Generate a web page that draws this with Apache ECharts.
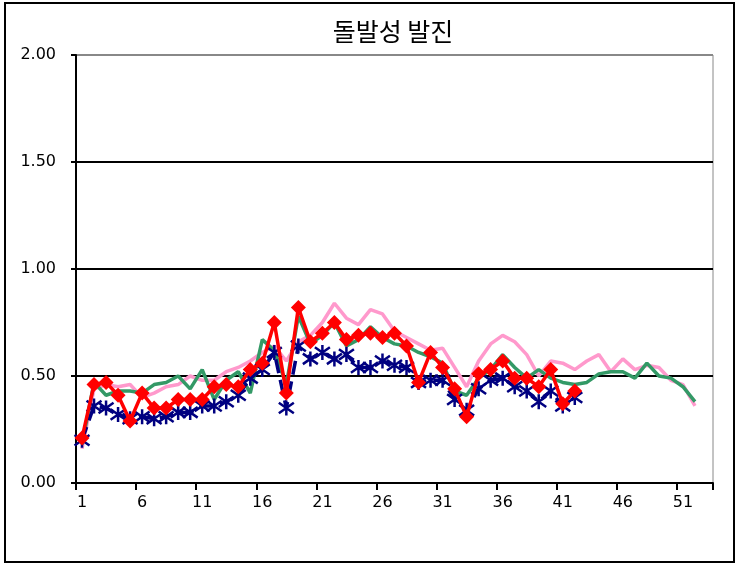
<!DOCTYPE html>
<html>
<head>
<meta charset="utf-8">
<script src="https://cdn.jsdelivr.net/npm/echarts@6/dist/echarts.min.js"></script>
<style>
  html, body { margin: 0; padding: 0; background: #fff; }
  #chart { width: 739px; height: 566px; }
</style>
</head>
<body>
<div id="chart"></div>
<script>
var weeks = [];
for (var w = 1; w <= 53; w++) { weeks.push(String(w)); }

var pinkValues = [0.16, 0.44, 0.46, 0.45, 0.46, 0.40, 0.42, 0.45, 0.46, 0.50,
  0.48, 0.48, 0.52, 0.54, 0.57, 0.61, 0.64, 0.57, 0.66, 0.69,
  0.75, 0.84, 0.77, 0.74, 0.81, 0.79, 0.71, 0.68, 0.65, 0.62,
  0.63, 0.54, 0.45, 0.57, 0.65, 0.69, 0.66, 0.60, 0.50, 0.57,
  0.56, 0.53, 0.57, 0.60, 0.52, 0.58, 0.53, 0.55, 0.54, 0.48,
  0.46, 0.36];

var greenValues = [0.18, 0.47, 0.41, 0.43, 0.43, 0.42, 0.46, 0.47, 0.50, 0.44,
  0.53, 0.39, 0.48, 0.52, 0.42, 0.67, 0.62, 0.46, 0.78, 0.65,
  0.69, 0.75, 0.64, 0.67, 0.73, 0.68, 0.65, 0.64, 0.61, 0.59,
  0.56, 0.43, 0.41, 0.49, 0.53, 0.60, 0.54, 0.49, 0.53, 0.49,
  0.47, 0.46, 0.47, 0.51, 0.52, 0.52, 0.49, 0.56, 0.50, 0.49,
  0.45, 0.38];

var blueValues = [0.20, 0.36, 0.35, 0.32, 0.30, 0.31, 0.30, 0.31, 0.33, 0.33,
  0.36, 0.36, 0.38, 0.41, 0.49, 0.53, 0.61, 0.35, 0.64, 0.58,
  0.61, 0.58, 0.60, 0.54, 0.54, 0.57, 0.55, 0.54, 0.47, 0.48,
  0.48, 0.39, 0.34, 0.44, 0.48, 0.49, 0.45, 0.43, 0.38, 0.43,
  0.36, 0.40];

var redValues = [0.21, 0.46, 0.47, 0.41, 0.29, 0.42, 0.35, 0.35, 0.39, 0.39,
  0.39, 0.45, 0.46, 0.45, 0.53, 0.56, 0.75, 0.42, 0.82, 0.66,
  0.70, 0.75, 0.67, 0.69, 0.70, 0.68, 0.70, 0.64, 0.47, 0.61,
  0.54, 0.44, 0.31, 0.51, 0.53, 0.57, 0.49, 0.49, 0.45, 0.53,
  0.37, 0.43];

var yTicks = [0, 0.5, 1, 1.5, 2];

// asterisk marker: vertical stroke plus an X
var asteriskPath = "path://M0 -10 L0 10 M-8 -7 L8 7 M-8 7 L8 -7";

var chart = echarts.init(document.getElementById("chart"), null, { renderer: "canvas" });

chart.setOption({
  animation: false,
  backgroundColor: "#ffffff",
  textStyle: { fontFamily: "DejaVu Sans, sans-serif" },
  title: {
    text: "돌발성 발진",
    left: 388,
    top: 14,
    textAlign: "center",
    textStyle: {
      fontFamily: "Noto Sans CJK KR",
      fontSize: 25,
      fontWeight: "normal",
      color: "#000"
    }
  },
  graphic: [{
    type: "rect",
    shape: { x: 5, y: 3, width: 729, height: 559 },
    style: { fill: "none", stroke: "#000", lineWidth: 2 },
    silent: true
  }],
  grid: {
    left: 76,
    right: 26,
    top: 55,
    bottom: 83,
    show: true,
    borderColor: "#888",
    borderWidth: 1
  },
  xAxis: {
    type: "category",
    data: weeks,
    boundaryGap: true,
    axisLine: { lineStyle: { color: "#000", width: 2 } },
    axisTick: { show: true, interval: 4, length: 7, lineStyle: { color: "#000", width: 2 } },
    axisLabel: { interval: 4, color: "#000", fontSize: 16, margin: 12 },
    splitLine: { show: false }
  },
  yAxis: {
    type: "value",
    min: yTicks[0],
    max: yTicks[yTicks.length - 1],
    interval: 0.5,
    axisLine: { show: true, lineStyle: { color: "#000", width: 2 } },
    axisTick: { show: true, length: 5, lineStyle: { color: "#000", width: 2 } },
    axisLabel: {
      color: "#000",
      fontSize: 16,
      margin: 20,
      formatter: function (v) { return v.toFixed(2); }
    },
    splitLine: { show: true, lineStyle: { color: ["#000", "#000", "#000", "#000", "#888"], width: 2 } }
  },
  series: [
    {
      name: "pink",
      type: "line",
      data: pinkValues,
      showSymbol: false,
      symbol: "none",
      lineStyle: { color: "#ff99cc", width: 3.5 },
      itemStyle: { color: "#ff99cc" },
      z: 2
    },
    {
      name: "green",
      type: "line",
      data: greenValues,
      showSymbol: false,
      symbol: "none",
      lineStyle: { color: "#339966", width: 3.5 },
      itemStyle: { color: "#339966" },
      z: 3
    },
    {
      name: "blue",
      type: "line",
      data: blueValues,
      symbol: asteriskPath,
      symbolSize: 15,
      showAllSymbol: true,
      lineStyle: { color: "#000080", width: 3.5, type: "dashed" },
      itemStyle: { color: "#000080", borderColor: "#000080", borderWidth: 2.5 },
      z: 4
    },
    {
      name: "red",
      type: "line",
      data: redValues,
      symbol: "diamond",
      symbolSize: 15,
      showAllSymbol: true,
      lineStyle: { color: "#ff0000", width: 3.5 },
      itemStyle: { color: "#ff0000" },
      z: 5
    }
  ]
});
</script>
</body>
</html>
